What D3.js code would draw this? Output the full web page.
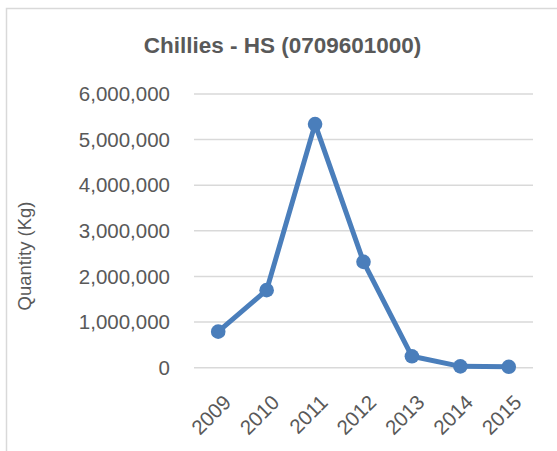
<!DOCTYPE html>
<html>
<head>
<meta charset="utf-8">
<script src="https://cdn.jsdelivr.net/npm/d3@7"></script>
<style>
  body { margin: 0; background: #fff; }
  svg { display: block; }
</style>
</head>
<body>
<div id="chart"></div>
<script>
// data
var years = ['2009', '2010', '2011', '2012', '2013', '2014', '2015'];
var quantities = [790000, 1700000, 5340000, 2320000, 250000, 30000, 20000];
var yTicks = [0, 1000000, 2000000, 3000000, 4000000, 5000000, 6000000];

var W = 557, H = 451;
var font = 'Liberation Sans, Arial, sans-serif';
var grey = '#595959';
var blue = '#4a7ebb';

var svg = d3.select('#chart').append('svg')
  .attr('width', W)
  .attr('height', H);

// chart frame
svg.append('rect')
  .attr('x', 6.5).attr('y', 8.5)
  .attr('width', 700).attr('height', 600)
  .attr('fill', '#fff')
  .attr('stroke', '#d9d9d9')
  .attr('stroke-width', 1.5);

var plot = { left: 194, right: 533, top: 94, bottom: 367.7 };

var x = d3.scaleBand()
  .domain(years)
  .range([plot.left, plot.right]);

var y = d3.scaleLinear()
  .domain([0, 6000000])
  .range([plot.bottom, plot.top]);

// gridlines
svg.append('g')
  .selectAll('line')
  .data(yTicks)
  .enter().append('line')
  .attr('x1', plot.left)
  .attr('x2', plot.right)
  .attr('y1', function(d){ return y(d); })
  .attr('y2', function(d){ return y(d); })
  .attr('stroke', '#d9d9d9')
  .attr('stroke-width', 1.5);

// y axis labels
var yAxis = d3.axisLeft(y)
  .tickValues(yTicks)
  .tickSize(0)
  .tickPadding(24)
  .tickFormat(d3.format(','));

var gy = svg.append('g')
  .attr('transform', 'translate(' + plot.left + ',0)')
  .call(yAxis);
gy.select('.domain').remove();
gy.selectAll('text')
  .attr('fill', grey)
  .attr('font-family', font)
  .attr('font-size', '20.5px');

// x axis labels, rotated
var xAxis = d3.axisBottom(x).tickSize(0);
var gx = svg.append('g')
  .attr('transform', 'translate(0,' + plot.bottom + ')')
  .call(xAxis);
gx.select('.domain').remove();
gx.selectAll('text')
  .attr('fill', grey)
  .attr('font-family', font)
  .attr('font-size', '20.5px')
  .attr('text-anchor', 'end')
  .attr('dy', null)
  .attr('y', 0)
  .attr('transform', 'translate(14,36) rotate(-45)');

// line
var line = d3.line()
  .x(function(d, i){ return x(years[i]) + x.bandwidth() / 2; })
  .y(function(d){ return y(d); });

svg.append('path')
  .datum(quantities)
  .attr('d', line)
  .attr('fill', 'none')
  .attr('stroke', blue)
  .attr('stroke-width', 5)
  .attr('stroke-linejoin', 'round');

svg.append('g')
  .selectAll('circle')
  .data(quantities)
  .enter().append('circle')
  .attr('cx', function(d, i){ return x(years[i]) + x.bandwidth() / 2; })
  .attr('cy', function(d){ return y(d); })
  .attr('r', 7.3)
  .attr('fill', blue);

// title
svg.append('text')
  .attr('x', 282.5)
  .attr('y', 53)
  .attr('text-anchor', 'middle')
  .attr('font-family', font)
  .attr('font-weight', 'bold')
  .attr('font-size', '22.5px')
  .attr('fill', grey)
  .text('Chillies - HS (0709601000)');

// y axis title
svg.append('text')
  .attr('transform', 'translate(31,256) rotate(-90)')
  .attr('text-anchor', 'middle')
  .attr('font-family', font)
  .attr('font-size', '18.5px')
  .attr('fill', grey)
  .text('Quantity (Kg)');
</script>
</body>
</html>
